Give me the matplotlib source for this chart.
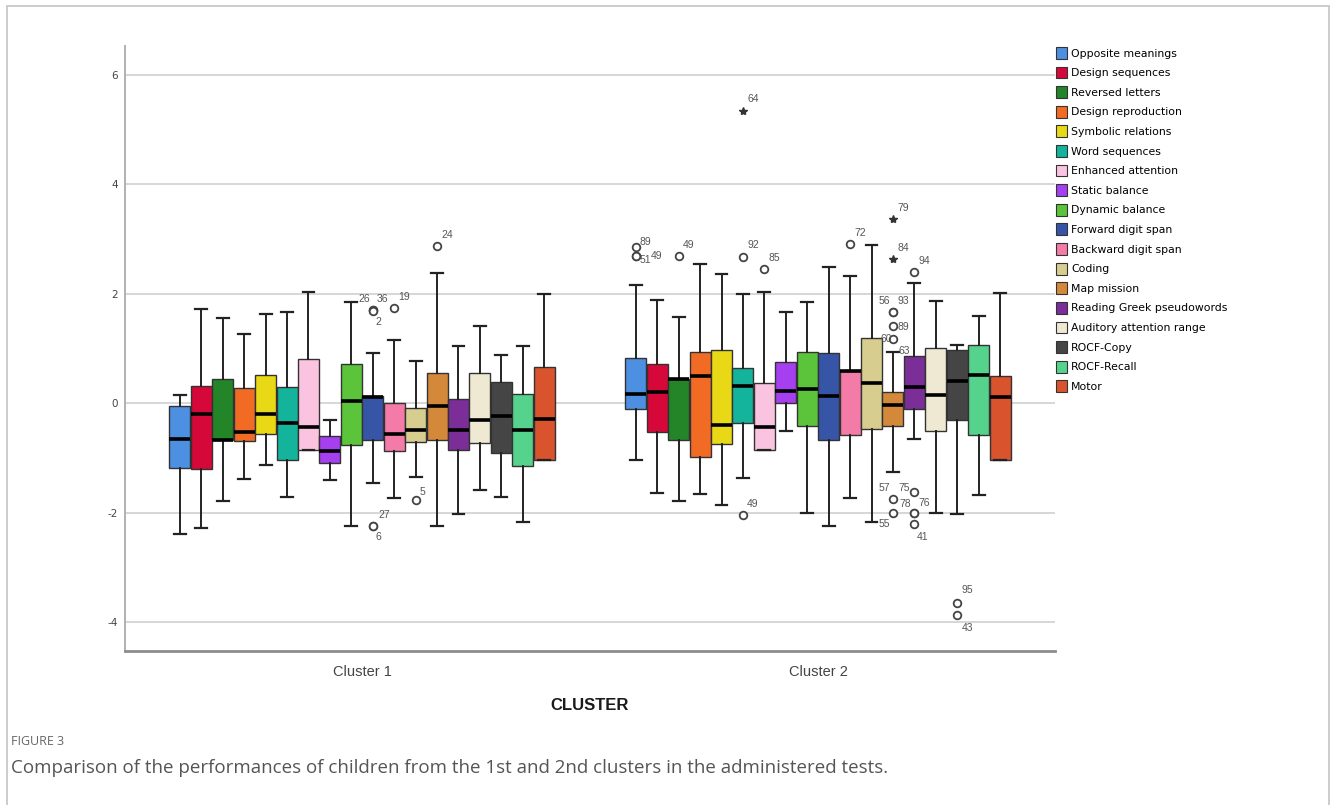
import matplotlib
matplotlib.use("Agg")
import matplotlib.pyplot as plt
from matplotlib.patches import Patch, Rectangle

plt.rcParams["axes.unicode_minus"] = False

# ---- data (z-scores) ----
tests = ["Opposite meanings", "Design sequences", "Reversed letters", "Design reproduction",
         "Symbolic relations", "Word sequences", "Enhanced attention", "Static balance",
         "Dynamic balance", "Forward digit span", "Backward digit span", "Coding",
         "Map mission", "Reading Greek pseudowords", "Auditory attention range",
         "ROCF-Copy", "ROCF-Recall", "Motor"]
colors = ["#4d8fe0", "#d6083a", "#238428", "#f26b25", "#e8d815", "#13b39c", "#fac3e0",
          "#a63ff0", "#5cc43a", "#3655a6", "#f47aa8", "#d7cd8e", "#d4883a", "#7b2d98",
          "#efe8d2", "#454545", "#55d38c", "#d9532d"]
clusters = ["Cluster 1", "Cluster 2"]

c1_q3 = [-0.05, 0.31, 0.44, 0.27, 0.52, 0.30, 0.80, -0.60, 0.71, 0.13, 0.00, -0.09, 0.55, 0.08, 0.56, 0.39, 0.17, 0.67]
c1_med = [-0.65, -0.20, -0.68, -0.52, -0.20, -0.36, -0.44, -0.88, 0.04, 0.11, -0.57, -0.49, -0.05, -0.49, -0.30, -0.24, -0.49, -0.28]
c1_q1 = [-1.18, -1.20, -0.68, -0.70, -0.57, -1.04, -0.86, -1.10, -0.76, -0.67, -0.87, -0.71, -0.67, -0.86, -0.72, -0.91, -1.14, -1.04]
c1_whi = [0.15, 1.72, 1.55, 1.27, 1.63, 1.66, 2.04, -0.30, 1.85, 0.91, 1.16, 0.78, 2.38, 1.05, 1.42, 0.89, 1.05, 2.00]
c1_wlo = [-2.39, -2.29, -1.79, -1.39, -1.13, -1.71, -0.86, -1.40, -2.24, -1.45, -1.74, -1.34, -2.24, -2.03, -1.58, -1.71, -2.18, -1.04]

c2_q3 = [0.83, 0.72, 0.44, 0.94, 0.98, 0.65, 0.37, 0.75, 0.94, 0.92, 0.58, 1.20, 0.20, 0.87, 1.01, 0.98, 1.06, 0.49]
c2_med = [0.16, 0.20, 0.44, 0.49, -0.39, 0.31, -0.44, 0.23, 0.26, 0.13, 0.59, 0.37, -0.04, 0.29, 0.15, 0.41, 0.51, 0.11]
c2_q1 = [-0.11, -0.52, -0.68, -0.98, -0.75, -0.36, -0.86, 0.00, -0.41, -0.67, -0.58, -0.48, -0.42, -0.10, -0.50, -0.31, -0.59, -1.03]
c2_whi = [2.16, 1.88, 1.57, 2.54, 2.36, 1.99, 2.03, 1.66, 1.85, 2.49, 2.33, 2.89, 0.93, 2.20, 1.86, 1.07, 1.60, 2.02]
c2_wlo = [-1.04, -1.64, -1.79, -1.66, -1.87, -1.36, -0.86, -0.51, -2.01, -2.24, -1.73, -2.18, -1.26, -0.66, -2.00, -2.02, -1.67, -1.03]

# outliers: cluster index, test index, value, case label, marker ('o' outlier, '*' extreme, '' label only)
out_cluster = [0, 0, 0, 0, 0, 0, 0, 0,
               1, 1, 1, 1, 1, 1, 1, 1, 1, 1, 1, 1, 1, 1, 1, 1, 1, 1, 1, 1, 1, 1, 1, 1, 1, 1]
out_test = [9, 9, 9, 10, 9, 9, 11, 12,
            0, 0, 0, 2, 5, 5, 5, 6, 10, 11, 12, 12, 12, 12, 12, 12, 12, 12, 12,
            13, 13, 13, 13, 13, 15, 15]
out_value = [1.71, 1.71, 1.69, 1.74, -2.24, -2.24, -1.77, 2.88,
             2.85, 2.70, 2.70, 2.69, 2.68, 5.34, -2.04, 2.45, 2.91, -2.18, 3.36, 2.63, 1.66, 1.66,
             1.42, 1.17, 0.95, -1.75, -2.00,
             2.40, -1.62, -2.00, -2.01, -2.20, -3.65, -3.88]
out_label = ["26", "36", "2", "19", "27", "6", "5", "24",
             "89", "51", "49", "49", "92", "64", "49", "85", "72", "55", "79", "84", "56", "93",
             "89", "60", "63", "57", "78",
             "94", "75", "76", "", "41", "95", "43"]
out_kind = ["o", "o", "o", "o", "o", "o", "o", "o",
            "o", "o", "o", "o", "o", "*", "o", "o", "o", "", "*", "*", "o", "o",
            "o", "o", "", "o", "o",
            "o", "o", "o", "o", "o", "o", "o"]

# label placement (offset in points, horizontal alignment)
lab_dx = [-2, 3, 2, 3, 4, 2, 3, 3,
          3, 3, 11, 3, 3, 3, 3, 3, 3, 5, 3, 3, -2, 3,
          3, -1, 4, -2, 5,
          3, -3, 3, 3, 2, 3, 3]
lab_dy = [8, 8, -8, 8, 8, -8, 6, 8,
          4, -3, 0, 8, 8, 9, 8, 8, 8, -1, 8, 8, 8, 8,
          -1, 0, 0, 8, 6,
          8, 3, 7, 0, -10, 9, -9]
lab_ha = ["right", "left", "left", "left", "left", "left", "left", "left",
          "left", "left", "left", "left", "left", "left", "left", "left", "left", "left", "left", "left", "right", "left",
          "left", "right", "left", "right", "left",
          "left", "right", "left", "left", "left", "left", "left"]

# ---- figure ----
narrow = ["Liberation Sans Narrow", "Liberation Sans", "DejaVu Sans"]
fig = plt.figure(figsize=(13.3, 8.05), dpi=100)
ax = fig.add_axes([125 / 1330, 1 - 651 / 805, 930 / 1330, 605 / 805])

n = len(tests)
bw = 0.047
for ci, (q1, med, q3, wlo, whi) in enumerate([(c1_q1, c1_med, c1_q3, c1_wlo, c1_whi),
                                              (c2_q1, c2_med, c2_q3, c2_wlo, c2_whi)]):
    stats = [dict(q1=q1[i], med=med[i], q3=q3[i], whislo=wlo[i], whishi=whi[i], fliers=[])
             for i in range(n)]
    pos = [ci + (i - (n - 1) / 2) * bw for i in range(n)]
    bp = ax.bxp(stats, positions=pos, widths=bw * 0.98, capwidths=bw * 0.55, patch_artist=True,
                showfliers=False, manage_ticks=False,
                boxprops=dict(edgecolor="#333333", linewidth=1.0),
                medianprops=dict(color="black", linewidth=2.6),
                whiskerprops=dict(color="#222222", linewidth=1.4),
                capprops=dict(color="#222222", linewidth=1.6))
    for patch, col in zip(bp["boxes"], colors):
        patch.set_facecolor(col)

# outliers and case labels
for c, t, v, lab, kind, dx, dy, ha in zip(out_cluster, out_test, out_value, out_label, out_kind,
                                          lab_dx, lab_dy, lab_ha):
    x = c + (t - (n - 1) / 2) * bw
    if kind == "o":
        ax.plot(x, v, marker="o", markersize=5.5, markerfacecolor="white",
                markeredgecolor="#444444", markeredgewidth=1.3, zorder=5)
    elif kind == "*":
        ax.plot(x, v, marker="*", markersize=6, color="#333333", zorder=5)
    if lab:
        ax.annotate(lab, (x, v), xytext=(dx, dy), textcoords="offset points",
                    ha=ha, va="center", fontsize=7.5, color="#555555", family=narrow, zorder=6)

ax.set_xlim(-0.52, 1.52)
ax.set_ylim(-4.53, 6.53)
ax.set_yticks([-4, -2, 0, 2, 4, 6])
ax.set_xticks([0, 1])
ax.set_xticklabels(clusters, family=narrow, fontsize=10.5, color="#444444")
ax.tick_params(axis="y", length=0, pad=5, labelsize=7.5, labelcolor="#444444")
ax.tick_params(axis="x", length=0, pad=10)
ax.grid(axis="y", color="#d6d6d6", linewidth=1.4)
ax.set_axisbelow(True)
for s in ["top", "right"]:
    ax.spines[s].set_visible(False)
ax.spines["left"].set_color("#b0b0b0")
ax.spines["left"].set_linewidth(1.4)
ax.spines["bottom"].set_color("#8c8c8c")
ax.spines["bottom"].set_linewidth(2.0)
ax.set_xlabel("CLUSTER", family=narrow, fontsize=12, fontweight="bold", color="#1a1a1a", labelpad=14)

# legend
handles = [Patch(facecolor=col, edgecolor="#333333", linewidth=0.8) for col in colors]
fig.legend(handles, tests, loc="upper left", bbox_to_anchor=(1056 / 1330, 1 - 47 / 805),
           frameon=False, fontsize=7.8, handlelength=1.0, handleheight=1.3,
           handletextpad=0.4, labelspacing=0.72, borderpad=0, borderaxespad=0)

# outer frame and caption
fig.patches.append(Rectangle((7 / 1330, -0.02), 1322 / 1330, 1.02 - 6 / 805, transform=fig.transFigure,
                             fill=False, edgecolor="#c8c8c8", linewidth=1.3))
fig.text(11 / 1330, 1 - 741 / 805, "FIGURE 3", fontsize=9, color="#666666", family="Open Sans",
         va="center")
fig.text(11 / 1330, 1 - 768 / 805,
         "Comparison of the performances of children from the 1st and 2nd clusters in the administered tests.",
         fontsize=13.5, color="#555555", family="Open Sans", va="center")

fig.savefig("out.png", dpi=100)
plt.close(fig)
